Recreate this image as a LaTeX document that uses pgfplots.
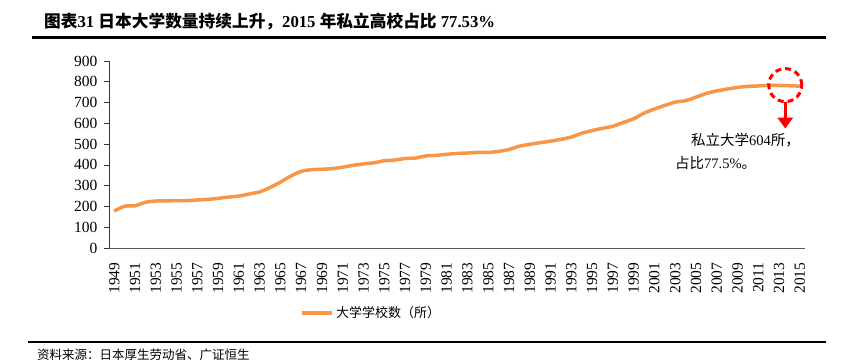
\documentclass[border=0pt]{standalone}
\usepackage{pgfplots}
\pgfplotsset{compat=1.18}
\usepackage{pgfplotstable}
\usepackage{fontspec}
\setmainfont{Liberation Serif}
\newfontfamily\cjk{Noto Sans CJK SC}
\usetikzlibrary{arrows.meta}
\definecolor{lineorange}{RGB}{247,150,70}
\pgfplotstableread{
year value
1949 178
1950 201
1951 203
1952 220
1953 226
1954 227
1955 228
1956 228
1957 231
1958 234
1959 239
1960 245
1961 250
1962 260
1963 270
1964 291
1965 317
1966 346
1967 369
1968 377
1969 379
1970 382
1971 389
1972 398
1973 405
1974 410
1975 420
1976 423
1977 431
1978 433
1979 443
1980 446
1981 451
1982 455
1983 457
1984 460
1985 460
1986 465
1987 474
1988 490
1989 499
1990 507
1991 514
1992 523
1993 534
1994 552
1995 565
1996 576
1997 586
1998 604
1999 622
2000 649
2001 669
2002 686
2003 702
2004 709
2005 726
2006 744
2007 756
2008 765
2009 773
2010 778
2011 780
2012 783
2013 782
2014 781
2015 779
}\datatable
\begin{document}
\begin{tikzpicture}
\begin{axis}[
  at={(109pt,114pt)}, anchor=south west,
  scale only axis, width=696pt, height=187pt,
  xmin=1948.5, xmax=2015.5, ymin=0, ymax=900,
  xtick={1949,1951,...,2015},
  ytick={0,100,...,900},
  axis lines=left, axis line style={-},
  x axis line style={black!65},
  y axis line style={black!80},
  xtick style={draw=none},
  ytick style={black!80, line width=0.6pt},
  tick align=outside, major tick length=5pt,
  /pgf/number format/1000 sep={},
  /pgf/number format/assume math mode=true,
  xticklabel style={rotate=90, anchor=east, font=\fontsize{15.5}{17}\selectfont, xshift=-6pt},
  yticklabel style={font=\fontsize{15.5}{17}\selectfont, xshift=-3pt},
  legend style={at={(0.377,-0.348)}, anchor=center, draw=none, fill=none,
    font=\fontsize{13}{15}\selectfont\cjk, inner sep=0pt},
  legend image code/.code={\draw[#1] (0pt,0pt) -- (30pt,0pt);},
  clip=false,
]
\addplot[color=lineorange, line width=3.5pt, smooth, tension=0.4] table[x=year, y=value] {\datatable};
\addlegendentry{大学学校数（所）}
\coordinate (circ) at (axis cs:2013.6,784);
\end{axis}
\draw[red, line width=3pt, dash pattern=on 6pt off 4pt] (circ) circle (16.5pt);
\draw[red, line width=3pt, -{Triangle[length=11pt,width=15pt]}] ([yshift=-16.5pt]circ) -- ++(0pt,-27pt);
\node[anchor=west, inner sep=0pt] at (44pt,340pt) {\fontsize{16.7}{18}\selectfont\bfseries{\cjk 图表}31 {\cjk 日本大学数量持续上升，}2015 {\cjk 年私立高校占比} 77.53\%};
\draw[line width=3pt] (32pt,324pt) -- (826pt,324pt);
\draw[line width=2.5pt] (28pt,20pt) -- (826pt,20pt);
\node[anchor=west, inner sep=0pt] at (37pt,7pt) {\fontsize{12.5}{14}\selectfont\cjk 资料来源：日本厚生劳动省、广证恒生};
\node[anchor=east, inner sep=0pt] at (800pt,222pt) {\fontsize{14.5}{16}\selectfont{\cjk 私立大学}604{\cjk 所，}};
\node[anchor=west, inner sep=0pt] at (675pt,199pt) {\fontsize{14.5}{16}\selectfont{\cjk 占比}77.5\%{\cjk 。}};
\pgfresetboundingbox
\path[use as bounding box] (0,0) rectangle (866pt,362pt);
\end{tikzpicture}
\end{document}
